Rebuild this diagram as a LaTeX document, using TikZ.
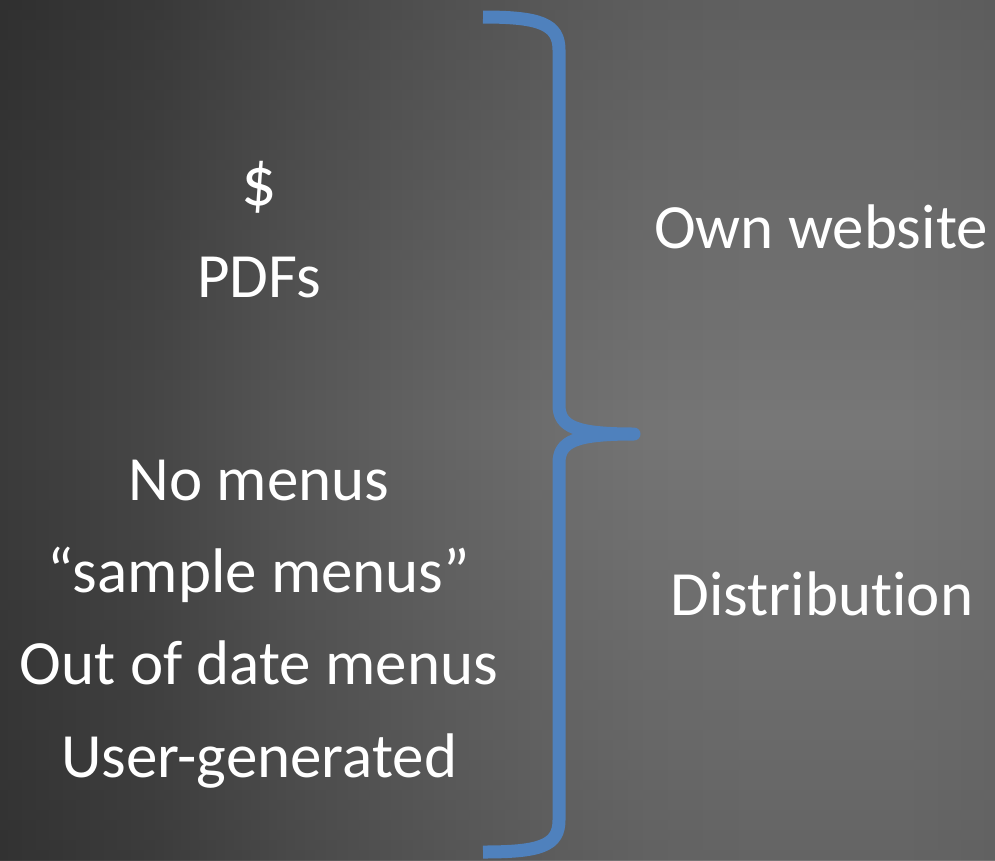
\documentclass[tikz,border=0pt]{standalone}
\usepackage{fontspec}
\setmainfont{Carlito}[Ligatures={TeX,NoCommon}]
\definecolor{braceblue}{HTML}{4F81BD}
\pgfdeclarehorizontalshading{slidebg}{100bp}{%
  rgb(0bp)=(.235,.235,.235); rgb(25bp)=(.235,.235,.235);
  rgb(32.5bp)=(.278,.278,.278); rgb(40bp)=(.345,.345,.345);
  rgb(47.6bp)=(.4,.4,.4); rgb(53.1bp)=(.435,.435,.435);
  rgb(57.7bp)=(.459,.459,.459); rgb(63.2bp)=(.471,.471,.471);
  rgb(70.2bp)=(.471,.471,.471); rgb(75bp)=(.455,.455,.455);
  rgb(100bp)=(.455,.455,.455)}

\begin{document}
\begin{tikzpicture}[x=1pt, y=-1pt,
    txt/.style={text=white, font=\fontsize{63}{76}\selectfont, anchor=base, inner sep=0pt},
    bracepen/.style={draw=braceblue, line width=13pt, line join=round, line cap=butt}
]
    \shade[shading=slidebg] (0,0) rectangle (995,860);
    % darker towards top and bottom edges
    \foreach \k in {0,...,42} {
        \pgfmathsetmacro\optop{0.2*(1-\k/43)}
        \pgfmathsetmacro\opbot{0.16*(1-\k/43)}
        \fill[black, fill opacity=\optop] (0,\k*10) rectangle (995,\k*10+10);
        \fill[black, fill opacity=\opbot] (0,860-\k*10) rectangle (995,850-\k*10);
    }
    \useasboundingbox (0,0) rectangle (995,860);
    % left column
    \node[txt, font=\fontsize{70}{76}\selectfont] (dollar) at (259,205) {\$};
    \node[txt] (pdfs) at (259,297) {PDFs};
    \node[txt] (nomenus) at (259,500) {No menus};
    \node[txt] (samplemenus) at (259,592) {“sample menus”};
    \node[txt] (outofdate) at (259,684) {Out of date menus};
    \node[txt] (usergen) at (259,777) {User-generated};
    % right column
    \node[txt] (ownsite) at (821,248) {Own website};
    \node[txt] (distrib) at (822,615) {Distribution};
    % brace
    \draw[bracepen] (483,17) .. controls (540,17) and (559,24) .. (559,50)
        -- (559,405) .. controls (559,427) and (576,434) .. (634,434)
        .. controls (576,434) and (559,441) .. (559,463)
        -- (559,820) .. controls (559,846) and (540,852) .. (483,852);
\end{tikzpicture}
\end{document}
